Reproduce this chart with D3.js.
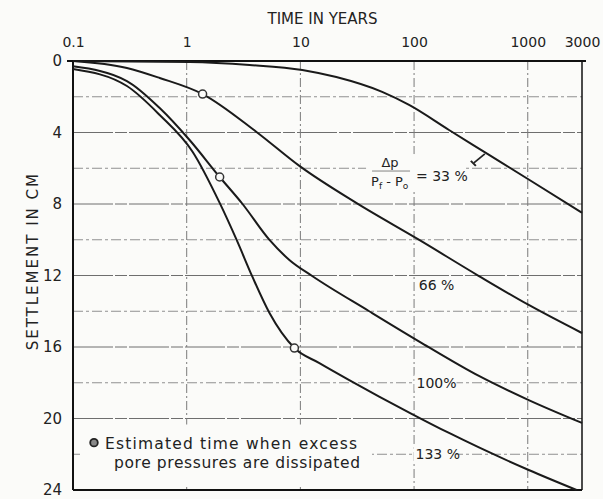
<!DOCTYPE html>
<html>
<head>
<meta charset="utf-8">
<script src="https://cdn.jsdelivr.net/npm/d3@7"></script>
<style>
  html, body { margin: 0; padding: 0; background: #fbfbf9; }
  svg { display: block; }
  text { font-family: "DejaVu Sans", sans-serif; fill: #222; }
</style>
</head>
<body>
<svg id="chart" width="603" height="499"></svg>
<script>
// Time (years) vs. settlement (cm) for four load ratios
const tickYears = [0.1, 1, 10, 100, 1000, 3000];
const tickLabels = ["0.1", "1", "10", "100", "1000", "3000"];
const settlementTicks = [0, 4, 8, 12, 16, 20, 24];
const gridSettlement = [2, 4, 6, 8, 10, 12, 14, 16, 18, 20, 22];
const gridYears = [1, 10, 100, 1000];

const curve33 = [
  [0.1, 0.0], [1.06, 0.05], [3.57, 0.22], [10.4, 0.5], [20.7, 0.9], [52.4, 1.73],
  [90.4, 2.46], [203, 3.86], [428, 5.14], [1020, 6.63], [3000, 8.49]
];
const curve66 = [
  [0.1, 0.0], [0.298, 0.39], [0.579, 0.95], [1.38, 1.85], [4.11, 3.97], [9.8, 5.87],
  [31, 7.94], [111, 10.01], [372, 12.03], [1020, 13.65], [3000, 15.22]
];
const curve100 = [
  [0.1, 0.3], [0.298, 1.12], [0.579, 2.63], [1.06, 4.42], [1.95, 6.49], [3.1, 8.0],
  [5.35, 10.01], [8.0, 11.13], [12.7, 12.03], [40.3, 14.0], [117, 15.78], [372, 17.62],
  [1020, 18.97], [3000, 20.25]
];
const curve133 = [
  [0.1, 0.45], [0.298, 1.4], [0.579, 3.02], [1.13, 5.09], [1.95, 7.94], [2.75, 10.01],
  [3.79, 12.08], [5.35, 14.1], [8.86, 16.06], [14.7, 16.9], [26.9, 17.85], [49.3, 18.77],
  [96, 19.75], [203, 20.81], [372, 21.62], [1020, 22.88], [2690, 24.0]
];
// Estimated time when excess pore pressures are dissipated
const dissipated = [[1.38, 1.85], [1.95, 6.49], [8.86, 16.06]];
const curveLabels = [
  { text: "66 %", t: 110, s: 12.55 },
  { text: "100%", t: 105, s: 18.0 },
  { text: "133 %", t: 103, s: 22.0 }
];

const svg = d3.select("#chart");
const plotLeft = 73, plotRight = 582, plotTop = 61, plotBottom = 490;
const condensed = "DejaVu Sans Condensed, DejaVu Sans, sans-serif";

const x = d3.scaleLog().domain([0.1, 3000]).range([plotLeft, plotRight]);
const y = d3.scaleLinear().domain([0, 24]).range([plotTop, plotBottom]);

// grid
const grid = svg.append("g");
grid.selectAll("line.h").data(gridSettlement).join("line")
  .attr("x1", plotLeft).attr("x2", plotRight)
  .attr("y1", d => y(d)).attr("y2", d => y(d))
  .attr("stroke", d => d % 4 === 0 ? "#6e6e6e" : "#909090")
  .attr("stroke-width", 1)
  .attr("stroke-dasharray", d => d % 4 === 0 ? "40,2,12,2" : "10,3,3,3");
grid.selectAll("line.v").data(gridYears).join("line")
  .attr("x1", d => x(d)).attr("x2", d => x(d))
  .attr("y1", plotTop).attr("y2", plotBottom)
  .attr("stroke", "#7a7a7a").attr("stroke-width", 1)
  .attr("stroke-dasharray", "9,3,2,3");

// legend panel covers the grid
const legend = svg.append("g");
legend.append("rect")
  .attr("x", plotLeft + 7).attr("y", y(20) + 6)
  .attr("width", 292).attr("height", y(24) - y(20) - 9)
  .attr("fill", "#fbfbf9");

// frame
const frame = svg.append("g").attr("stroke", "#111").attr("fill", "none");
frame.append("line").attr("x1", plotLeft - 6).attr("x2", plotRight + 4).attr("y1", plotTop).attr("y2", plotTop).attr("stroke-width", 2.2);
frame.append("line").attr("x1", plotLeft).attr("x2", plotLeft).attr("y1", plotTop).attr("y2", plotBottom).attr("stroke-width", 2);
frame.append("line").attr("x1", plotLeft).attr("x2", plotRight).attr("y1", plotBottom).attr("y2", plotBottom).attr("stroke-width", 2);
frame.append("line").attr("x1", plotRight).attr("x2", plotRight).attr("y1", plotTop).attr("y2", plotBottom).attr("stroke-width", 1.5);

// axes (tick labels only, in the style of the plot)
const xAxis = d3.axisTop(x).tickValues(tickYears).tickFormat((d, i) => tickLabels[i]).tickSize(0).tickPadding(0);
const gx = svg.append("g").attr("transform", `translate(0, ${plotTop - 14})`).call(xAxis);
gx.select(".domain").remove();
gx.selectAll("text").attr("font-size", 14).attr("fill", "#222").attr("font-family", condensed);

const yAxis = d3.axisLeft(y).tickValues(settlementTicks).tickSize(0).tickPadding(0);
const gy = svg.append("g").attr("transform", `translate(${plotLeft - 11}, 0)`).call(yAxis);
gy.select(".domain").remove();
gy.selectAll("text").attr("font-size", 15).attr("fill", "#222").attr("font-family", condensed);

svg.append("text")
  .attr("x", (plotLeft + plotRight) / 2 - 5).attr("y", 24)
  .attr("text-anchor", "middle").attr("font-size", 15).attr("font-family", condensed)
  .text("TIME IN YEARS");
svg.append("text")
  .attr("transform", `translate(38, ${y(11.2)}) rotate(-90)`)
  .attr("text-anchor", "middle").attr("font-size", 15).attr("letter-spacing", 2)
  .attr("font-family", condensed)
  .text("SETTLEMENT IN CM");

// curves
const line = d3.line().x(d => x(d[0])).y(d => y(d[1])).curve(d3.curveMonotoneX);
svg.append("g").selectAll("path").data([curve33, curve66, curve100, curve133]).join("path")
  .attr("d", line).attr("fill", "none").attr("stroke", "#1a1a1a").attr("stroke-width", 2);

// dissipation markers
svg.append("g").selectAll("circle").data(dissipated).join("circle")
  .attr("cx", d => x(d[0])).attr("cy", d => y(d[1])).attr("r", 4)
  .attr("fill", "#fbfbf9").attr("stroke", "#333").attr("stroke-width", 1.5);

// curve labels sit on white patches over the grid
const lab = svg.append("g").selectAll("g").data(curveLabels).join("g")
  .attr("transform", d => `translate(${x(d.t)}, ${y(d.s)})`);
lab.append("rect").attr("x", -2).attr("y", -8).attr("width", 42).attr("height", 16).attr("fill", "#fbfbf9");
lab.append("text").attr("x", 0).attr("y", 5).attr("font-size", 14).attr("font-family", condensed)
  .text(d => d.text);

// ratio annotation for the 33 % curve
const ann = svg.append("g").attr("font-family", condensed);
const ax = x(41), ay = y(6.1);
ann.append("rect").attr("x", ax - 4).attr("y", ay - 16).attr("width", 100).attr("height", 36).attr("fill", "#fbfbf9");
ann.append("text").attr("x", ax + 20).attr("y", ay - 3).attr("font-size", 13).attr("text-anchor", "middle").text("Δp");
ann.append("line").attr("x1", ax + 2).attr("x2", ax + 40).attr("y1", ay + 1).attr("y2", ay + 1).attr("stroke", "#666").attr("stroke-width", 0.8);
const den = ann.append("text").attr("x", ax + 1).attr("y", ay + 16).attr("font-size", 13);
den.append("tspan").text("P");
den.append("tspan").attr("font-size", 9).attr("dy", 3).text("f");
den.append("tspan").attr("dy", -3).text(" - P");
den.append("tspan").attr("font-size", 9).attr("dy", 3).text("o");
ann.append("text").attr("x", ax + 46).attr("y", ay + 11).attr("font-size", 14).text("= 33 %");
// leader to the curve
const lp = [428, 5.14];
ann.append("line")
  .attr("x1", x(lp[0]) - 12).attr("y1", y(lp[1]) + 10)
  .attr("x2", x(lp[0]) - 1).attr("y2", y(lp[1]) + 1)
  .attr("stroke", "#222").attr("stroke-width", 1.8);
ann.append("line")
  .attr("x1", x(lp[0]) - 15).attr("y1", y(lp[1]) + 8)
  .attr("x2", x(lp[0]) - 10).attr("y2", y(lp[1]) + 13)
  .attr("stroke", "#222").attr("stroke-width", 2);

// legend
legend.append("circle").attr("cx", plotLeft + 21).attr("cy", y(21.35)).attr("r", 3.8)
  .attr("fill", "#888").attr("stroke", "#222").attr("stroke-width", 1.8);
legend.append("text").attr("x", plotLeft + 32).attr("y", y(21.35) + 6).attr("font-size", 15.5)
  .attr("textLength", 252).attr("lengthAdjust", "spacing")
  .text("Estimated time when excess");
legend.append("text").attr("x", plotLeft + 41).attr("y", y(22.45) + 6).attr("font-size", 15.5)
  .attr("textLength", 246).attr("lengthAdjust", "spacing")
  .text("pore pressures are dissipated");
</script>
</body>
</html>
